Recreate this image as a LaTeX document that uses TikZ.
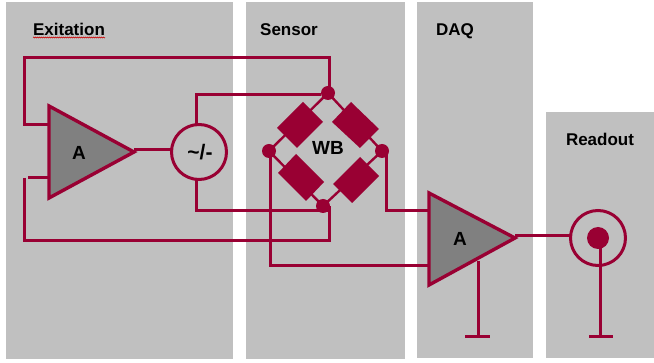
\documentclass[tikz,border=0pt]{standalone}
\usepackage{fontspec}
\setmainfont{Liberation Sans}
\usetikzlibrary{decorations.pathmorphing}
\definecolor{wire}{HTML}{990033}
\definecolor{panel}{HTML}{C0C0C0}
\definecolor{tri}{HTML}{808080}
\tikzset{
  panelbox/.style={fill=panel,draw=none},
  wireline/.style={draw=wire,line width=3pt,line join=miter},
  thinwire/.style={draw=wire,line width=2.4pt},
  amp/.style={draw=wire,fill=tri,line width=3.4pt,line join=miter},
  ringnode/.style={circle,draw=wire,line width=3pt,minimum size=55pt,inner sep=0pt},
  dotnode/.style={circle,fill=wire,minimum size=14pt,inner sep=0pt},
  resistor/.style={fill=wire,draw=none},
  paneltitle/.style={font=\fontsize{17}{19}\selectfont\bfseries,text=black,inner sep=0pt,anchor=base},
  symbol/.style={font=\fontsize{19}{21}\selectfont\bfseries,text=black,inner sep=0pt}
}
\begin{document}
\begin{tikzpicture}[x=1pt,y=-1pt]
\useasboundingbox (0,0) rectangle (654,363);
\fill[white] (0,0) rectangle (654,363);
% panels
\fill[panelbox] (6,2) rectangle (233,359);
\fill[panelbox] (246,2) rectangle (405,359);
\fill[panelbox] (417,2) rectangle (533,358);
\fill[panelbox] (546,112) rectangle (654,358);
% titles
\node[paneltitle] (t1) at (69,35.5) {Exitation};
\node[paneltitle] (t2) at (289,35.5) {Sensor};
\node[paneltitle] (t3) at (455,35.5) {DAQ};
\node[paneltitle] (t4) at (600,146) {Readout};
\draw[red!80!black,line width=0.5pt,decorate,decoration={zigzag,segment length=2pt,amplitude=0.6pt}] (33,37.5) -- (105,37.5);
% coordinates
\coordinate (a1tl) at (49,106);
\coordinate (a1tip) at (134,152);
\coordinate (a1bl) at (49,198);
\coordinate (a2tl) at (429,193);
\coordinate (a2tip) at (515,238);
\coordinate (a2bl) at (429,285);
\coordinate (a1in1) at (49,125);
\coordinate (a1in2) at (49,178);
\coordinate (a2in1) at (429,211);
\coordinate (a2in2) at (429,266);
\coordinate (g1) at (478,337);
\coordinate (g2) at (600,337);
\coordinate (g1top) at (478,261);
\coordinate (srctap) at (196,94.5);
% nodes
\node[ringnode] (src) at (199,152) {};
\node[ringnode] (ring) at (598,238) {};
\node[dotnode] (top) at (328,93) {};
\node[dotnode] (left) at (269,151) {};
\node[dotnode] (right) at (382,151) {};
\node[dotnode] (bot) at (323,206) {};
\node[circle,fill=wire,minimum size=22pt,inner sep=0pt] (core) at (598,238) {};
% bridge arms
\draw[thinwire] (top.center) -- (left.center) -- (bot.center) -- (right.center) -- cycle;
\fill[resistor] (303,102) -- (323,122) -- (297,148) -- (277,128) -- cycle;
\fill[resistor] (351,102) -- (379,129) -- (360,148) -- (332,122) -- cycle;
\fill[resistor] (296,154) -- (324,182) -- (306,201) -- (278,173) -- cycle;
\fill[resistor] (360,157) -- (379,176) -- (352,203) -- (333,184) -- cycle;
% wires
\draw[wireline] (a1in1) -- (24,125) -- (24,57.5) -- (329,57.5) -- (329,93);
\draw[wireline] (a1in2) -- (28,178);
\draw[wireline] (24,178) -- (24,241) -- (329,241) -- (329,206);
\draw[wireline] (196,124.5) -- (srctap) -- (top.west |- srctap);
\draw[wireline] (196,179.5) -- (196,211) -- (329,211);
\draw[wireline] (a1tip) ++(0,-2) -- (171.5,150);
\draw[wireline] (left.center) ++(1,0) -- (270,266) -- (a2in2);
\draw[wireline] (right.center) ++(4,0) -- (386,211) -- (a2in1);
\draw[wireline] (a2tip) ++(0,-2) -- (570.5,236);
\draw[wireline] (g1top) -- (g1);
\draw[wireline] (465,337) -- (490,337);
\draw[wireline] (core.center) ++(2,0) -- (g2);
\draw[wireline] (589,337) -- (613,337);
% amplifiers
\draw[amp] (a1tl) -- (a1tip) -- (a1bl) -- cycle;
\draw[amp] (a2tl) -- (a2tip) -- (a2bl) -- cycle;
% symbols
\node[symbol] (l1) at (79,153) {A};
\node[symbol,font=\fontsize{21}{23}\selectfont\bfseries] (l2) at (200,152) {\textasciitilde/-};
\node[symbol] (l3) at (328,148) {WB};
\node[symbol] (l4) at (460,239) {A};
\end{tikzpicture}
\end{document}
